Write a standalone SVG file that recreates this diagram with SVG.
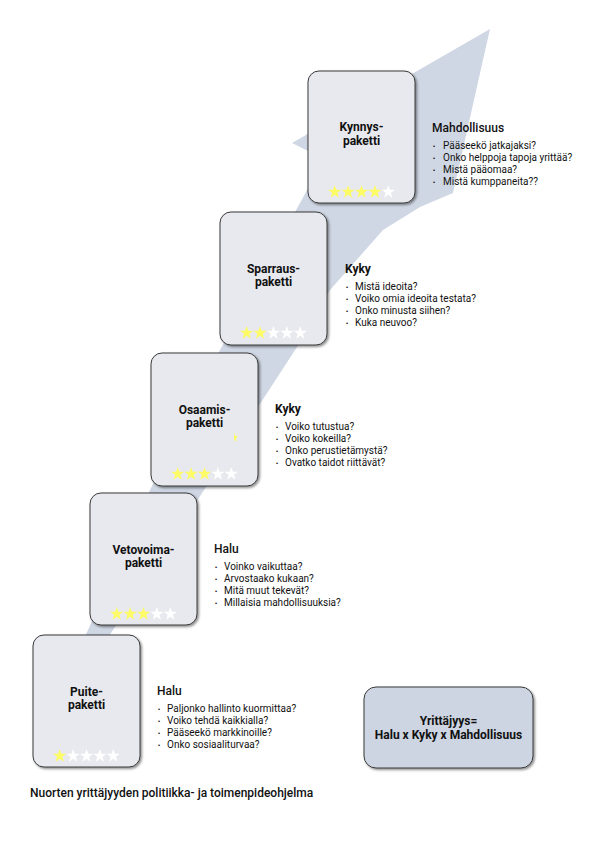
<svg xmlns="http://www.w3.org/2000/svg" width="595" height="842" viewBox="0 0 595 842">
<defs>
<style>
.box{fill:#e8e9ee;stroke:#3a3a3a;stroke-width:1;filter:url(#sh)}
.sum{fill:#cdd5e2;stroke:#3a3a3a;stroke-width:1;filter:url(#sh)}
.t{font-family:Roboto,'Liberation Sans',sans-serif;font-size:12px;font-weight:700;fill:#111;text-anchor:middle}
.h{font-family:Roboto,'Liberation Sans',sans-serif;font-size:12px;font-weight:500;fill:#111}
.hb{font-weight:700}
.b{font-family:Roboto,'Liberation Sans',sans-serif;font-size:10px;fill:#111}
.d{font-family:'Liberation Sans',sans-serif;font-size:6px;fill:#111}
.y{fill:#fdfb66}
.w{fill:#ffffff}
.f{font-family:Roboto,'Liberation Sans',sans-serif;font-size:12px;font-weight:500;fill:#111}
</style>
<filter id="sh" x="-10%" y="-10%" width="125%" height="125%">
<feDropShadow dx="1.5" dy="1.5" stdDeviation="1" flood-color="#000" flood-opacity="0.45"/>
</filter>
<polygon id="star" points="0,-7 1.65,-2.27 6.66,-2.16 2.67,0.87 4.11,5.66 0,2.8 -4.11,5.66 -2.67,0.87 -6.66,-2.16 -1.65,-2.27"/>
</defs>
<rect width="595" height="842" fill="#ffffff"/>

<g id="connectors">
<polygon fill="#cfd7e4" points="490,29 453,193 420,207 383,230 330,290 297,347 258,407 204,490 113,630 67,700 56,700 88,630 150,490 220,350 300,203 324,159 292,143"/>
</g>

<g id="node-kynnys">
<rect class="box" x="308" y="71" width="107" height="132" rx="11"/>
<text class="t" x="361.5" y="131">Kynnys-</text>
<text class="t" x="361.5" y="144.5">paketti</text>
<use href="#star" class="y" x="334.7" y="192"/><use href="#star" class="y" x="348.1" y="192"/><use href="#star" class="y" x="361.5" y="192"/><use href="#star" class="y" x="374.9" y="192"/><use href="#star" class="w" x="388.3" y="192"/>
<text class="h" x="432" y="132">Mahdollisuus</text>
<text class="d" x="433" y="148">•</text><text class="b" x="443" y="149">Pääseekö jatkajaksi?</text>
<text class="d" x="433" y="160">•</text><text class="b" x="443" y="161">Onko helppoja tapoja yrittää?</text>
<text class="d" x="433" y="172">•</text><text class="b" x="443" y="173">Mistä pääomaa?</text>
<text class="d" x="433" y="184">•</text><text class="b" x="443" y="185">Mistä kumppaneita??</text>
</g>

<g id="node-sparraus">
<rect class="box" x="220" y="212" width="107" height="133" rx="11"/>
<text class="t" x="273.5" y="272.5">Sparraus-</text>
<text class="t" x="273.5" y="286">paketti</text>
<use href="#star" class="y" x="246.7" y="333"/><use href="#star" class="y" x="260.1" y="333"/><use href="#star" class="w" x="273.5" y="333"/><use href="#star" class="w" x="286.9" y="333"/><use href="#star" class="w" x="300.3" y="333"/>
<text class="h hb" x="345" y="273">Kyky</text>
<text class="d" x="346" y="289">•</text><text class="b" x="355" y="290">Mistä ideoita?</text>
<text class="d" x="346" y="301">•</text><text class="b" x="355" y="302">Voiko omia ideoita testata?</text>
<text class="d" x="346" y="313">•</text><text class="b" x="355" y="314">Onko minusta siihen?</text>
<text class="d" x="346" y="325">•</text><text class="b" x="355" y="326">Kuka neuvoo?</text>
</g>

<g id="node-osaamis">
<rect class="box" x="151" y="353" width="107" height="133" rx="11"/>
<text class="t" x="204.5" y="413.5">Osaamis-</text>
<text class="t" x="204.5" y="427">paketti</text>
<polygon class="y" points="234,432 235,435.7 238,436 235.8,438.4 236.6,441.6 234,440"/>
<use href="#star" class="y" x="177.7" y="474"/><use href="#star" class="y" x="191.1" y="474"/><use href="#star" class="y" x="204.5" y="474"/><use href="#star" class="w" x="217.9" y="474"/><use href="#star" class="w" x="231.3" y="474"/>
<text class="h hb" x="275" y="413">Kyky</text>
<text class="d" x="276" y="429">•</text><text class="b" x="285" y="430">Voiko tutustua?</text>
<text class="d" x="276" y="441">•</text><text class="b" x="285" y="442">Voiko kokeilla?</text>
<text class="d" x="276" y="453">•</text><text class="b" x="285" y="454">Onko perustietämystä?</text>
<text class="d" x="276" y="465">•</text><text class="b" x="285" y="466">Ovatko taidot riittävät?</text>
</g>

<g id="node-vetovoima">
<rect class="box" x="90" y="493" width="107" height="132" rx="11"/>
<text class="t" x="143.5" y="553.5">Vetovoima-</text>
<text class="t" x="143.5" y="567">paketti</text>
<use href="#star" class="y" x="116.7" y="614"/><use href="#star" class="y" x="130.1" y="614"/><use href="#star" class="y" x="143.5" y="614"/><use href="#star" class="w" x="156.9" y="614"/><use href="#star" class="w" x="170.3" y="614"/>
<text class="h" x="214" y="553">Halu</text>
<text class="d" x="215" y="569">•</text><text class="b" x="224" y="570">Voinko vaikuttaa?</text>
<text class="d" x="215" y="581">•</text><text class="b" x="224" y="582">Arvostaako kukaan?</text>
<text class="d" x="215" y="593">•</text><text class="b" x="224" y="594">Mitä muut tekevät?</text>
<text class="d" x="215" y="605">•</text><text class="b" x="224" y="606">Millaisia mahdollisuuksia?</text>
</g>

<g id="node-puite">
<rect class="box" x="33" y="635" width="107" height="132" rx="11"/>
<text class="t" x="86.5" y="695.5">Puite-</text>
<text class="t" x="86.5" y="709">paketti</text>
<use href="#star" class="y" x="59.7" y="756"/><use href="#star" class="w" x="73.1" y="756"/><use href="#star" class="w" x="86.5" y="756"/><use href="#star" class="w" x="99.9" y="756"/><use href="#star" class="w" x="113.3" y="756"/>
<text class="h" x="157" y="695">Halu</text>
<text class="d" x="158" y="711">•</text><text class="b" x="167" y="712">Paljonko hallinto kuormittaa?</text>
<text class="d" x="158" y="723">•</text><text class="b" x="167" y="724">Voiko tehdä kaikkialla?</text>
<text class="d" x="158" y="735">•</text><text class="b" x="167" y="736">Pääseekö markkinoille?</text>
<text class="d" x="158" y="747">•</text><text class="b" x="167" y="748">Onko sosiaaliturvaa?</text>
</g>

<g id="node-summary">
<rect class="sum" x="364" y="687" width="169" height="81" rx="12"/>
<text class="t" x="448.5" y="725">Yrittäjyys=</text>
<text class="t" x="448.5" y="739">Halu x Kyky x Mahdollisuus</text>
</g>

<text class="f" x="30" y="797">Nuorten yrittäjyyden politiikka- ja toimenpideohjelma</text>
</svg>
